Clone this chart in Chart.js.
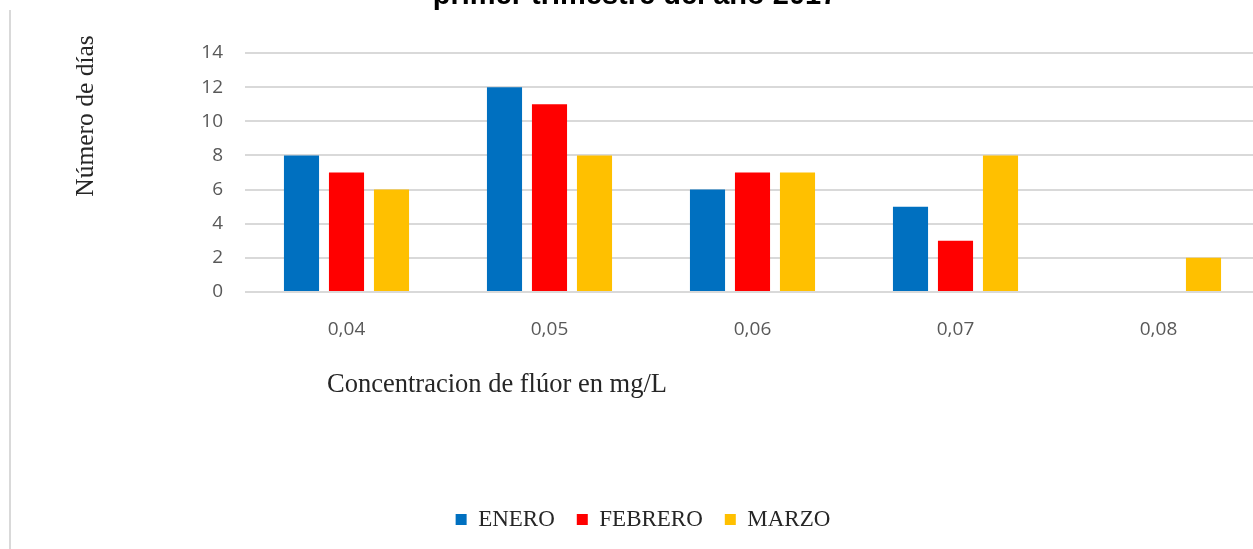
<!DOCTYPE html>
<html><head><meta charset="utf-8">
<script src="https://cdn.jsdelivr.net/npm/chart.js@4.4.0/dist/chart.umd.min.js"></script>
<style>
html,body{margin:0;padding:0;background:#fff;overflow:hidden;width:1253px;height:549px}
#wrap{position:relative;width:1272px;height:549px}
</style></head>
<body><div id="wrap"><canvas id="c" width="1272" height="549"></canvas></div>
<script>
const categories = ['0,04','0,05','0,06','0,07','0,08'];
const enero = [8,12,6,5,0];
const febrero = [7,11,7,3,0];
const marzo = [6,8,7,8,2];
const yMin = 0, yMax = 14, yStep = 2;
const seriesNames = ['ENERO','FEBRERO','MARZO'];
const seriesColors = ['#0070C0','#FF0000','#FFC000'];
const titleText = 'primer trimestre del año 2017';
const xTitle = 'Concentracion de flúor en mg/L';
const yTitle = 'Número de días';

const decor = {
  id: 'decor',
  beforeDraw(chart) {
    const ctx = chart.ctx;
    ctx.save();
    ctx.strokeStyle = '#d9d9d9';
    ctx.lineWidth = 2;
    ctx.beginPath(); ctx.moveTo(10, 10); ctx.lineTo(10, 549); ctx.stroke();
    ctx.restore();
  },
  afterDraw(chart) {
    const ctx = chart.ctx;
    ctx.save();
    ctx.fillStyle = '#000';
    ctx.font = 'bold 29px "Liberation Sans", Arial, sans-serif';
    ctx.textAlign = 'center';
    ctx.textBaseline = 'alphabetic';
    ctx.fillText(titleText, 635, 4);
    ctx.fillStyle = '#262626';
    ctx.font = '26.5px "Liberation Serif", "Times New Roman", serif';
    ctx.textAlign = 'left';
    ctx.textBaseline = 'middle';
    ctx.fillText(xTitle, 327, 385);
    ctx.font = '25.5px "Liberation Serif", "Times New Roman", serif';
    ctx.translate(86, 116);
    ctx.rotate(-Math.PI / 2);
    ctx.textAlign = 'center';
    ctx.fillText(yTitle, 0, 0);
    ctx.restore();
  }
};

new Chart(document.getElementById('c'), {
  type: 'bar',
  data: {
    labels: categories,
    datasets: [
      { label: seriesNames[0], data: enero, backgroundColor: seriesColors[0] },
      { label: seriesNames[1], data: febrero, backgroundColor: seriesColors[1] },
      { label: seriesNames[2], data: marzo, backgroundColor: seriesColors[2] }
    ]
  },
  options: {
    responsive: false,
    animation: false,
    devicePixelRatio: 1,
    categoryPercentage: 0.665,
    barPercentage: 0.78,
    layout: { padding: { top: 53, right: 12, bottom: 8, left: 26 } },
    plugins: {
      title: { display: false },
      tooltip: { enabled: false },
      legend: {
        position: 'bottom',
        labels: {
          boxWidth: 11, boxHeight: 11, padding: 22,
          color: '#262626',
          font: { family: '"Liberation Serif", "Times New Roman", serif', size: 23 }
        }
      }
    },
    scales: {
      x: {
        grid: { display: false, drawTicks: false },
        border: { display: false },
        ticks: { color: '#595959', padding: 26, font: { family: '"Open Sans", sans-serif', size: 19 } },
        afterFit(s) { s.height = 194; }
      },
      y: {
        min: yMin, max: yMax,
        grid: { color: '#d9d9d9', lineWidth: 2, drawTicks: false },
        border: { display: false },
        ticks: { stepSize: yStep, color: '#595959', padding: 22, font: { family: '"Open Sans", sans-serif', size: 19 } },
        afterFit(s) { s.width = 219; }
      }
    }
  },
  plugins: [decor]
});
</script></body></html>
